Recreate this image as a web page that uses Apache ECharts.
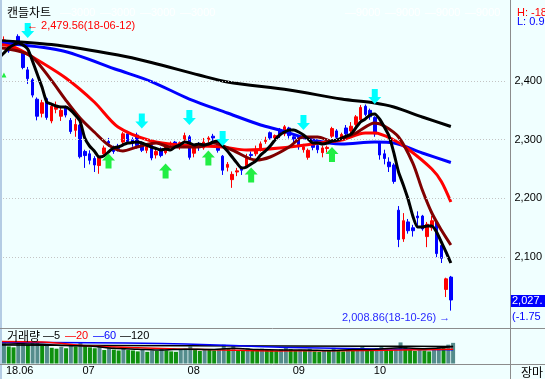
<!DOCTYPE html>
<html><head><meta charset="utf-8">
<script src="https://cdn.jsdelivr.net/npm/echarts@6/dist/echarts.min.js"></script>
<style>html,body{margin:0;padding:0;background:#f0ffff}#c{width:545px;height:379px}</style>
</head><body><div id="c"></div>
<script>
// ---- data (KOSPI daily, 2018) ----
const dates = ['06-04','06-05','06-07','06-08','06-11','06-12','06-14','06-15','06-18','06-19','06-20','06-21','06-22','06-25','06-26','06-27','06-28','06-29',
'07-02','07-03','07-04','07-05','07-06','07-09','07-10','07-11','07-12','07-13','07-16','07-17','07-18','07-19','07-20','07-23','07-24','07-25','07-26','07-27','07-30','07-31',
'08-01','08-02','08-03','08-06','08-07','08-08','08-09','08-10','08-13','08-14','08-16','08-17','08-20','08-21','08-22','08-23','08-24','08-27','08-28','08-29','08-30','08-31',
'09-03','09-04','09-05','09-06','09-07','09-10','09-11','09-12','09-13','09-14','09-17','09-18','09-19','09-20','09-21','09-27','09-28',
'10-01','10-02','10-04','10-05','10-08','10-10','10-11','10-12','10-15','10-16','10-17','10-18','10-19','10-22','10-23','10-24','10-25','10-26'];
const openP = [2434,2450,2466,2463,2455,2476,2450,2419,2402,2369,2345,2370,2332,2352,2340,2355,2333,2316,
2325,2280,2276,2268,2256,2276,2297,2285,2289,2296,2310,2300,2308,2295,2282,2290,2274,2284,2278,2293,2296,2288,
2300,2305,2277,2292,2286,2300,2306,2295,2272,2253,2232,2245,2250,2255,2275,2276,2282,2297,2312,2303,2315,2310,
2320,2305,2304,2283,2270,2292,2290,2278,2285,2306,2315,2303,2320,2315,2326,2334,2357,
2350,2338,2295,2276,2262,2257,2180,2131,2160,2150,2170,2170,2135,2150,2160,2120,2045,2066];
const closeP = [2447,2453,2470,2451,2468,2468,2423,2404,2376,2340,2363,2338,2357,2358,2350,2342,2314,2326,
2271,2273,2265,2257,2272,2286,2294,2280,2285,2310,2297,2294,2290,2282,2289,2269,2280,2273,2289,2294,2293,2295,
2307,2270,2287,2287,2296,2303,2303,2282,2248,2258,2241,2247,2248,2270,2273,2283,2293,2299,2303,2307,2307,2322,
2307,2301,2288,2288,2282,2287,2283,2286,2287,2319,2304,2309,2310,2323,2339,2355,2343,
2339,2310,2274,2268,2254,2229,2130,2162,2145,2145,2167,2148,2156,2162,2106,2098,2063,2027];
const lowP = [2430,2442,2463,2448,2452,2462,2420,2395,2372,2333,2338,2334,2328,2345,2332,2338,2310,2305,
2268,2252,2258,2245,2242,2272,2288,2276,2280,2292,2293,2288,2285,2279,2277,2265,2268,2270,2275,2286,2289,2283,
2296,2266,2270,2281,2283,2295,2298,2278,2240,2246,2218,2238,2240,2252,2266,2272,2280,2293,2300,2299,2303,2306,
2302,2294,2283,2278,2266,2282,2277,2270,2278,2303,2300,2298,2305,2310,2322,2330,2340,
2334,2305,2266,2258,2245,2225,2117,2126,2140,2135,2150,2145,2117,2145,2100,2090,2032,2008.86];
const highP = [2450,2458,2476,2465,2469,2479.56,2452,2424,2405,2372,2368,2372,2360,2365,2356,2358,2337,2336,
2327,2283,2282,2272,2274,2290,2303,2290,2293,2313,2315,2304,2312,2297,2293,2293,2283,2287,2292,2297,2298,2297,
2312,2308,2290,2296,2303,2306,2310,2297,2274,2262,2246,2252,2255,2276,2280,2290,2297,2305,2314,2309,2320,2325,
2322,2308,2306,2293,2285,2295,2294,2290,2290,2322,2318,2312,2325,2330,2342,2359,2360,
2353,2340,2298,2283,2270,2260,2187,2175,2165,2155,2178,2172,2160,2170,2162,2124,2065,2068];
// volume (thousand shares)
const volume = [470,400,450,380,360,480,500,420,460,490,400,430,350,330,370,340,420,380,
460,390,360,340,380,300,350,310,290,340,300,290,270,300,260,290,280,330,290,270,260,300,
330,380,300,280,310,300,290,320,420,330,400,300,280,340,300,290,330,320,300,280,320,360,
320,290,310,280,330,270,260,300,280,350,300,270,310,290,340,370,300,
290,340,380,320,300,330,470,390,310,280,320,290,270,300,380,360,420,460];
// moving averages
const ma5 = [2434.1,2440.0,2447.7,2456.2,2461.3,2464.7,2461.3,2454.5,2434.1,2411.9,2389.8,2364.2,2360.8,2357.4,2355.7,2355.7,2350.6,2342.1,
2331.9,2302.9,2289.3,2280.8,2270.6,2272.3,2279.1,2285.9,2287.6,2291.0,2294.4,2295.2,2296.1,2294.4,2291.0,2287.6,2285.0,2282.5,2284.2,2282.5,2287.6,2291.0,
2296.1,2294.4,2291.0,2292.7,2291.0,2292.7,2296.1,2297.8,2289.3,2280.8,2270.6,2260.3,2251.8,2253.5,2258.6,2263.7,2274.0,2280.8,2289.3,2299.5,2308.0,2313.1,
2316.5,2316.5,2313.1,2308.0,2301.2,2294.4,2294.4,2292.7,2294.4,2297.8,2299.5,2302.9,2306.3,2309.7,2319.9,2330.2,2335.3,
2342.1,2343.8,2335.3,2321.6,2306.3,2278.0,2245.0,2222.9,2199.0,2170.0,2151.3,2151.3,2153.0,2153.0,2142.8,2125.8,2108.7,2090.0];
const ma10 = [[0,2457.9],[5,2451.1],[8,2440.9],[12,2401.0],[15,2367.6],[18,2337.0],[21,2313.1],[24,2291.0],[27,2280.8],[30,2287.6],[34,2294.4],[37,2287.6],[43,2287.6],[46,2294.4],[50,2282.5],[55,2265.4],[58,2270.6],[62,2287.6],[65,2304.6],[68,2304.6],[71,2297.8],[76,2311.4],[80,2328.5],[82,2323.4],[85,2304.6],[88,2260.3],[90,2214.3],[92,2175.2],[94,2146.2],[96,2120.7]];
const ma20 = [[0,2463.0],[4,2457.9],[8,2440.9],[15,2405.1],[21,2364.2],[26,2321.6],[33,2297.8],[39,2291.0],[48,2287.6],[53,2282.5],[60,2285.9],[70,2296.1],[73,2299.5],[78,2311.4],[80,2311.4],[84,2299.5],[87,2284.2],[92,2250.1],[94,2228.8],[96,2193.9]];
const ma60 = [[0,2465.6],[14,2452.0],[26,2418.7],[33,2399.1],[41,2369.3],[49,2345.5],[56,2325.1],[60,2316.5],[67,2299.5],[73,2292.7],[80,2296.1],[84,2294.4],[90,2277.4],[96,2261.2]];
const ma120 = [[0,2469.3],[12,2462.2],[26,2444.3],[33,2431.5],[43,2410.2],[49,2398.3],[62,2384.7],[73,2369.3],[80,2362.5],[84,2355.7],[90,2338.7],[96,2322.5]];
const volMa5 = [[0,420],[5,440],[10,430],[15,400],[20,390],[25,340],[30,320],[35,300],[40,320],[45,310],[50,340],[55,310],[60,300],[65,300],[70,290],[75,310],[80,320],[85,350],[90,330],[96,380]];
const volMa20 = [[0,490],[10,480],[20,390],[30,350],[40,320],[48,300],[58,280],[70,285],[85,300],[96,315]];
const volMa60 = [[0,470],[20,465],[35,445],[45,420],[55,380],[62,355],[80,325],[96,305]];
const volMa120 = [[0,410],[40,395],[80,385],[96,380]];
// signals
const sellSignals = [[7,2486.0],[31,2331.9],[41,2337.8],[48,2302.1],[65,2329.3],[80,2373.6]];
const buySignals = [[24,2263.7],[36,2246.7],[45,2268.8],[54,2239.9],[71,2274.8]];
const smallMarks = [[2,2410.2]];
// axis text
const yTicks = [2100,2200,2300,2400];
const monthLabels = ['18.06','07','08','09','10'];
const monthLabelIdx = [2,18,40,62,79];
const xMin = 1.172, xMax = 107.49;   // visible day-index window

const candles = dates.map((d, i) => [i, openP[i], closeP[i], lowP[i], highP[i]]);
const ma5Pts = ma5.map((v, i) => [i, v]);
const volBars = volume.map((v, i) => ({value: [i, v], itemStyle: {color: (i > 0 && v > volume[i-1]) ? '#548c8c' : '#0e900e'}}));

const F = '"Liberation Sans", Arial, sans-serif';
const K = '"Noto Sans CJK KR", sans-serif';
const downArrow = 'path://M3.5,0 L9.5,0 L9.5,8 L13,8 L6.5,15 L0,8 L3.5,8 Z';
const upArrow = 'path://M6.5,0 L13,7 L9.5,7 L9.5,15 L3.5,15 L3.5,7 L0,7 Z';

function txt(x, y, text, fill, font) {
  return {type: 'text', silent: true, z: 100, style: {x: x, y: y, text: text, fill: fill, font: font || ('11px ' + F), verticalAlign: 'middle', align: 'left'}};
}
const ghost = [];
[60,100,140,180].forEach(x => ghost.push(txt(x, 12.5, '—3000', '#ffffff')));
[345,385,425,465].forEach(x => ghost.push(txt(x, 12.5, '—9000', '#ffffff')));

const chart = echarts.init(document.getElementById('c'), null, {renderer: 'canvas', width: 545, height: 379});
chart.setOption({
  animation: false,
  backgroundColor: '#f0ffff',
  grid: [
    {left: 0, right: 37, top: 0, height: 322},
    {left: 0, right: 37, top: 328.5, height: 35}
  ],
  xAxis: [
    {type: 'value', gridIndex: 0, min: xMin, max: xMax, show: false, splitLine: {show: false}},
    {type: 'value', gridIndex: 1, min: xMin, max: xMax,
     axisLine: {show: false}, axisTick: {show: false}, splitLine: {show: false},
     axisLabel: {customValues: monthLabelIdx,
       formatter: (v) => { const k = monthLabelIdx.indexOf(v); return k >= 0 ? monthLabels[k] : ''; },
       showMinLabel: true, showMaxLabel: true, hideOverlap: false,
       align: 'left', margin: 2, color: '#000', fontSize: 11, fontFamily: F, padding: [0, 0, 0, 2]}}
  ],
  yAxis: [
    {type: 'value', gridIndex: 0, position: 'right', min: 1989.5, max: 2538,
     splitLine: {show: false}, axisLine: {show: false}, axisTick: {show: false},
     axisLabel: {margin: 9, color: '#000', fontSize: 11, fontFamily: F,
       formatter: v => yTicks.includes(v) ? v.toLocaleString('en-US') : ''}},
    {type: 'value', gridIndex: 1, min: 0, max: 780, show: false}
  ],
  series: [
    {type: 'candlestick', xAxisIndex: 0, yAxisIndex: 0, data: candles, encode: {x: 0, y: [1, 2, 3, 4]}, barWidth: 3,
     itemStyle: {color: '#ff0000', color0: '#0000ff', borderColor: '#ff0000', borderColor0: '#0000ff', borderWidth: 1},
     markLine: {silent: true, symbol: ['none', 'none'], animation: false, label: {show: false},
       lineStyle: {color: '#c4c4c4', type: [1, 2], width: 1},
       data: yTicks.map(v => ({yAxis: v}))}},
    {type: 'line', name: 'MA120', data: ma120, smooth: 0.3, symbol: 'none', lineStyle: {color: '#000000', width: 3}},
    {type: 'line', name: 'MA60', data: ma60, smooth: 0.3, symbol: 'none', lineStyle: {color: '#0000ff', width: 3}},
    {type: 'line', name: 'MA20', data: ma20, smooth: 0.3, symbol: 'none', lineStyle: {color: '#ff0000', width: 3}},
    {type: 'line', name: 'MA10', data: ma10, smooth: 0.3, symbol: 'none', lineStyle: {color: '#800000', width: 3}},
    {type: 'line', name: 'MA5', data: ma5Pts, smooth: 0.2, symbol: 'none', lineStyle: {color: '#000000', width: 3}},
    {type: 'scatter', data: sellSignals, symbol: downArrow, symbolSize: [13, 15], itemStyle: {color: '#00ffff', opacity: 1}, z: 10},
    {type: 'scatter', data: buySignals, symbol: upArrow, symbolSize: [13, 15], itemStyle: {color: '#22ee44', opacity: 1}, z: 10},
    {type: 'scatter', data: smallMarks, symbol: 'triangle', symbolSize: [5, 5], itemStyle: {color: '#22ee44', opacity: 1}, z: 10},
    {type: 'bar', xAxisIndex: 1, yAxisIndex: 1, data: volBars, barWidth: 4},
    {type: 'line', xAxisIndex: 1, yAxisIndex: 1, data: volMa120, smooth: 0.3, symbol: 'none', lineStyle: {color: '#000000', width: 1.5}},
    {type: 'line', xAxisIndex: 1, yAxisIndex: 1, data: volMa60, smooth: 0.3, symbol: 'none', lineStyle: {color: '#0000ff', width: 1.5}},
    {type: 'line', xAxisIndex: 1, yAxisIndex: 1, data: volMa20, smooth: 0.3, symbol: 'none', lineStyle: {color: '#ff0000', width: 1.5}},
    {type: 'line', xAxisIndex: 1, yAxisIndex: 1, data: volMa5, smooth: 0.3, symbol: 'none', lineStyle: {color: '#000000', width: 1.5}}
  ],
  graphic: [
    {type: 'rect', silent: true, z: 100, shape: {x: 0, y: 0, width: 2, height: 379}, style: {fill: '#b4cce4'}},
    {type: 'line', silent: true, z: 100, shape: {x1: 0, y1: 328.5, x2: 545, y2: 328.5}, style: {stroke: '#8c8c8c', lineWidth: 1}},
    {type: 'line', silent: true, z: 100, shape: {x1: 0, y1: 364.5, x2: 545, y2: 364.5}, style: {stroke: '#8c8c8c', lineWidth: 1}},
    {type: 'line', silent: true, z: 100, shape: {x1: 510.5, y1: 0, x2: 510.5, y2: 379}, style: {stroke: '#8c8c8c', lineWidth: 1}},
    txt(7, 12.5, '캔들차트', '#000000', '12px ' + K),
    ...ghost,
    txt(27, 26, '← 2,479.56(18-06-12)', '#ff0000'),
    txt(342, 318, '2,008.86(18-10-26) →', '#2a2aff'),
    txt(517, 12.5, 'H: -18', '#ff0000'),
    txt(517, 21.5, 'L: 0.9', '#0000ff'),
    {type: 'rect', silent: true, z: 99, shape: {x: 511, y: 295, width: 34, height: 12}, style: {fill: '#0000ff'}},
    txt(512, 301, '2,027.', '#ffffff'),
    txt(512, 317, '(-1.75', '#0000ff'),
    txt(521, 372, '장마', '#000000', '12px ' + K),
    txt(7, 336, '거래량', '#000000', '12px ' + K),
    txt(43, 336, '—5', '#000000'),
    txt(65, 336, '—20', '#ff0000'),
    txt(93, 336, '—60', '#0000ff'),
    txt(120, 336, '—120', '#000000')
  ]
});
</script></body></html>
